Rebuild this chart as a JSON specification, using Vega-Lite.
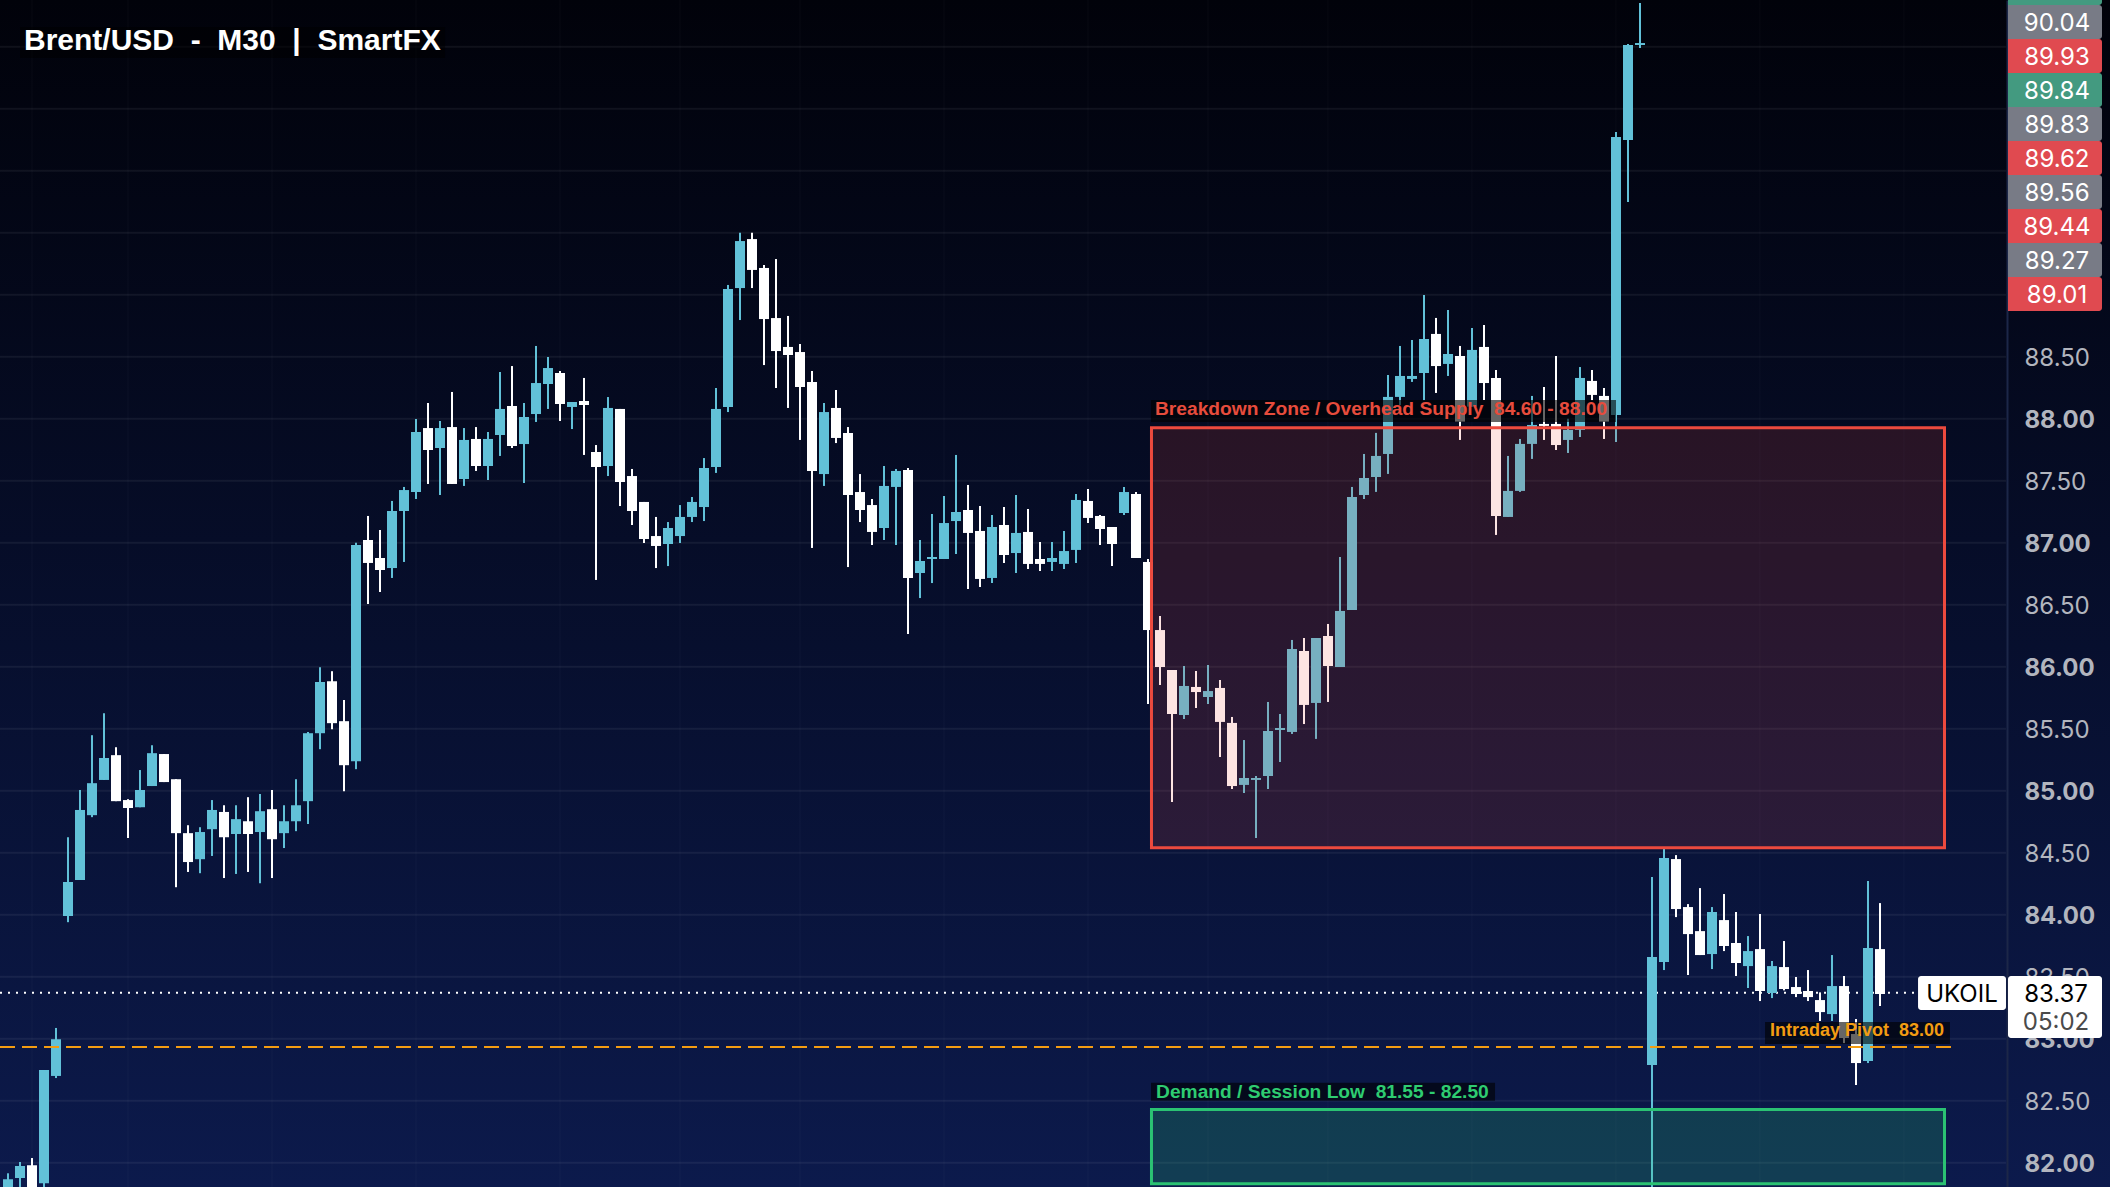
{
  "$schema": "https://vega.github.io/schema/vega-lite/v6.json",
  "width": 2110,
  "height": 1187,
  "padding": 0,
  "autosize": {"type": "none"},
  "background": "#01020a",
  "view": {
    "stroke": null,
    "fill": {
      "gradient": "linear", "x1": 0, "y1": 0, "x2": 0, "y2": 1,
      "stops": [{"offset": 0, "color": "#01020a"}, {"offset": 1, "color": "#0c1a4c"}]
    }
  },
  "resolve": {"scale": {"color": "independent"}},
  "datasets": {
    "candles": [
      {"i":0,"open":81.75,"high":81.915,"low":81.7,"close":81.867},
      {"i":1,"open":81.877,"high":82.006,"low":81.75,"close":81.974},
      {"i":2,"open":81.98,"high":82.038,"low":81.7,"close":81.75},
      {"i":3,"open":81.835,"high":82.748,"low":81.8,"close":82.748},
      {"i":4,"open":82.7,"high":83.087,"low":82.683,"close":82.996},
      {"i":5,"open":83.99,"high":84.625,"low":83.94,"close":84.264},
      {"i":6,"open":84.28,"high":85.006,"low":84.28,"close":84.845},
      {"i":7,"open":84.803,"high":85.448,"low":84.787,"close":85.061},
      {"i":8,"open":85.087,"high":85.625,"low":85.087,"close":85.264},
      {"i":9,"open":85.287,"high":85.351,"low":84.916,"close":84.916},
      {"i":10,"open":84.925,"high":84.932,"low":84.619,"close":84.861},
      {"i":11,"open":84.867,"high":85.167,"low":84.867,"close":85.006},
      {"i":12,"open":85.038,"high":85.367,"low":85.038,"close":85.303},
      {"i":13,"open":85.296,"high":85.296,"low":85.07,"close":85.07},
      {"i":14,"open":85.093,"high":85.093,"low":84.222,"close":84.658},
      {"i":15,"open":84.658,"high":84.722,"low":84.345,"close":84.425},
      {"i":16,"open":84.448,"high":84.706,"low":84.335,"close":84.667},
      {"i":17,"open":84.69,"high":84.925,"low":84.474,"close":84.845},
      {"i":18,"open":84.829,"high":84.883,"low":84.296,"close":84.625},
      {"i":19,"open":84.651,"high":84.883,"low":84.329,"close":84.771},
      {"i":20,"open":84.754,"high":84.948,"low":84.345,"close":84.651},
      {"i":21,"open":84.667,"high":84.974,"low":84.254,"close":84.835},
      {"i":22,"open":84.851,"high":85.006,"low":84.296,"close":84.609},
      {"i":23,"open":84.658,"high":84.883,"low":84.538,"close":84.754},
      {"i":24,"open":84.754,"high":85.093,"low":84.674,"close":84.883},
      {"i":25,"open":84.916,"high":85.474,"low":84.732,"close":85.464},
      {"i":26,"open":85.464,"high":85.996,"low":85.335,"close":85.877},
      {"i":27,"open":85.883,"high":85.964,"low":85.496,"close":85.545},
      {"i":28,"open":85.561,"high":85.732,"low":84.996,"close":85.206},
      {"i":29,"open":85.238,"high":87.0,"low":85.174,"close":86.982},
      {"i":30,"open":87.022,"high":87.216,"low":86.506,"close":86.837},
      {"i":31,"open":86.877,"high":87.103,"low":86.603,"close":86.78},
      {"i":32,"open":86.796,"high":87.337,"low":86.716,"close":87.256},
      {"i":33,"open":87.256,"high":87.45,"low":86.845,"close":87.425},
      {"i":34,"open":87.409,"high":87.998,"low":87.353,"close":87.893},
      {"i":35,"open":87.925,"high":88.127,"low":87.474,"close":87.748},
      {"i":36,"open":87.764,"high":87.982,"low":87.385,"close":87.925},
      {"i":37,"open":87.933,"high":88.216,"low":87.474,"close":87.474},
      {"i":38,"open":87.514,"high":87.925,"low":87.458,"close":87.829},
      {"i":39,"open":87.837,"high":87.933,"low":87.579,"close":87.619},
      {"i":40,"open":87.619,"high":87.893,"low":87.506,"close":87.837},
      {"i":41,"open":87.869,"high":88.377,"low":87.7,"close":88.079},
      {"i":42,"open":88.103,"high":88.425,"low":87.764,"close":87.78},
      {"i":43,"open":87.796,"high":88.127,"low":87.482,"close":88.014},
      {"i":44,"open":88.038,"high":88.587,"low":87.974,"close":88.288},
      {"i":45,"open":88.28,"high":88.498,"low":88.079,"close":88.409},
      {"i":46,"open":88.369,"high":88.385,"low":87.982,"close":88.119},
      {"i":47,"open":88.095,"high":88.135,"low":87.917,"close":88.135},
      {"i":48,"open":88.143,"high":88.329,"low":87.708,"close":88.111},
      {"i":49,"open":87.732,"high":87.788,"low":86.7,"close":87.611},
      {"i":50,"open":87.619,"high":88.175,"low":87.538,"close":88.087},
      {"i":51,"open":88.079,"high":88.079,"low":87.296,"close":87.49},
      {"i":52,"open":87.538,"high":87.595,"low":87.143,"close":87.256},
      {"i":53,"open":87.329,"high":87.329,"low":86.998,"close":87.03},
      {"i":54,"open":87.054,"high":87.208,"low":86.796,"close":86.974},
      {"i":55,"open":86.99,"high":87.167,"low":86.812,"close":87.119},
      {"i":56,"open":87.054,"high":87.304,"low":86.998,"close":87.208},
      {"i":57,"open":87.208,"high":87.369,"low":87.167,"close":87.329},
      {"i":58,"open":87.288,"high":87.683,"low":87.175,"close":87.603},
      {"i":59,"open":87.611,"high":88.248,"low":87.563,"close":88.079},
      {"i":60,"open":88.095,"high":89.079,"low":88.054,"close":89.046},
      {"i":61,"open":89.054,"high":89.5,"low":88.796,"close":89.433},
      {"i":62,"open":89.449,"high":89.5,"low":89.054,"close":89.2},
      {"i":63,"open":89.216,"high":89.24,"low":88.433,"close":88.804},
      {"i":64,"open":88.812,"high":89.288,"low":88.248,"close":88.546},
      {"i":65,"open":88.579,"high":88.829,"low":88.087,"close":88.514},
      {"i":66,"open":88.538,"high":88.603,"low":87.829,"close":88.256},
      {"i":67,"open":88.296,"high":88.385,"low":86.958,"close":87.579},
      {"i":68,"open":87.554,"high":88.127,"low":87.458,"close":88.054},
      {"i":69,"open":88.087,"high":88.232,"low":87.804,"close":87.845},
      {"i":70,"open":87.885,"high":87.933,"low":86.804,"close":87.385},
      {"i":71,"open":87.409,"high":87.554,"low":87.167,"close":87.264},
      {"i":72,"open":87.304,"high":87.353,"low":86.982,"close":87.087},
      {"i":73,"open":87.119,"high":87.619,"low":87.022,"close":87.458},
      {"i":74,"open":87.45,"high":87.595,"low":86.982,"close":87.579},
      {"i":75,"open":87.587,"high":87.603,"low":86.264,"close":86.716},
      {"i":76,"open":86.756,"high":87.022,"low":86.554,"close":86.853},
      {"i":77,"open":86.869,"high":87.232,"low":86.675,"close":86.885},
      {"i":78,"open":86.869,"high":87.377,"low":86.869,"close":87.159},
      {"i":79,"open":87.175,"high":87.708,"low":86.909,"close":87.248},
      {"i":80,"open":87.264,"high":87.466,"low":86.627,"close":87.079},
      {"i":81,"open":87.095,"high":87.296,"low":86.643,"close":86.708},
      {"i":82,"open":86.716,"high":87.224,"low":86.675,"close":87.127},
      {"i":83,"open":87.143,"high":87.288,"low":86.837,"close":86.901},
      {"i":84,"open":86.917,"high":87.385,"low":86.756,"close":87.079},
      {"i":85,"open":87.087,"high":87.272,"low":86.788,"close":86.829},
      {"i":86,"open":86.869,"high":87.006,"low":86.772,"close":86.829},
      {"i":87,"open":86.845,"high":87.006,"low":86.772,"close":86.877},
      {"i":88,"open":86.829,"high":87.095,"low":86.788,"close":86.933},
      {"i":89,"open":86.942,"high":87.393,"low":86.837,"close":87.345},
      {"i":90,"open":87.337,"high":87.433,"low":87.159,"close":87.2},
      {"i":91,"open":87.216,"high":87.224,"low":86.982,"close":87.111},
      {"i":92,"open":87.127,"high":87.127,"low":86.812,"close":86.99},
      {"i":93,"open":87.24,"high":87.45,"low":87.224,"close":87.409},
      {"i":94,"open":87.393,"high":87.409,"low":86.877,"close":86.877},
      {"i":95,"open":86.845,"high":86.869,"low":85.7,"close":86.296},
      {"i":96,"open":86.296,"high":86.409,"low":85.853,"close":85.998},
      {"i":97,"open":85.974,"high":85.974,"low":84.909,"close":85.619},
      {"i":98,"open":85.611,"high":86.006,"low":85.579,"close":85.845},
      {"i":99,"open":85.837,"high":85.966,"low":85.667,"close":85.796},
      {"i":100,"open":85.756,"high":86.014,"low":85.7,"close":85.804},
      {"i":101,"open":85.829,"high":85.893,"low":85.272,"close":85.555},
      {"i":102,"open":85.547,"high":85.595,"low":85.014,"close":85.038},
      {"i":103,"open":85.047,"high":85.409,"low":84.982,"close":85.103},
      {"i":104,"open":85.087,"high":85.119,"low":84.619,"close":85.103},
      {"i":105,"open":85.119,"high":85.716,"low":85.014,"close":85.482},
      {"i":106,"open":85.49,"high":85.619,"low":85.232,"close":85.506},
      {"i":107,"open":85.474,"high":86.216,"low":85.458,"close":86.143},
      {"i":108,"open":86.127,"high":86.232,"low":85.538,"close":85.692},
      {"i":109,"open":85.708,"high":86.232,"low":85.418,"close":86.232},
      {"i":110,"open":86.248,"high":86.345,"low":85.716,"close":86.006},
      {"i":111,"open":85.998,"high":86.885,"low":85.998,"close":86.45},
      {"i":112,"open":86.458,"high":87.45,"low":86.458,"close":87.369},
      {"i":113,"open":87.385,"high":87.716,"low":87.353,"close":87.522},
      {"i":114,"open":87.53,"high":87.886,"low":87.41,"close":87.7},
      {"i":115,"open":87.716,"high":88.353,"low":87.555,"close":88.176},
      {"i":116,"open":88.176,"high":88.587,"low":88.11,"close":88.345},
      {"i":117,"open":88.321,"high":88.635,"low":88.297,"close":88.345},
      {"i":118,"open":88.369,"high":88.998,"low":88.15,"close":88.643},
      {"i":119,"open":88.684,"high":88.813,"low":88.208,"close":88.425},
      {"i":120,"open":88.442,"high":88.877,"low":88.345,"close":88.522},
      {"i":121,"open":88.506,"high":88.587,"low":87.829,"close":87.977},
      {"i":122,"open":88.098,"high":88.732,"low":88.098,"close":88.555},
      {"i":123,"open":88.579,"high":88.756,"low":88.151,"close":88.288},
      {"i":124,"open":88.329,"high":88.393,"low":87.063,"close":87.216},
      {"i":125,"open":87.208,"high":87.7,"low":87.208,"close":87.418},
      {"i":126,"open":87.418,"high":87.837,"low":87.41,"close":87.797},
      {"i":127,"open":87.797,"high":88.184,"low":87.676,"close":87.95},
      {"i":128,"open":87.958,"high":88.256,"low":87.829,"close":87.942},
      {"i":129,"open":87.958,"high":88.506,"low":87.748,"close":87.788},
      {"i":130,"open":87.829,"high":88.0,"low":87.724,"close":87.91},
      {"i":131,"open":87.91,"high":88.417,"low":87.853,"close":88.329},
      {"i":132,"open":88.305,"high":88.393,"low":88.15,"close":88.192},
      {"i":133,"open":88.184,"high":88.248,"low":87.837,"close":87.977},
      {"i":134,"open":88.03,"high":90.313,"low":87.813,"close":90.272},
      {"i":135,"open":90.248,"high":91.022,"low":89.748,"close":91.014},
      {"i":136,"open":91.014,"high":91.353,"low":90.99,"close":91.03},
      {"i":137,"open":82.788,"high":84.304,"low":81.7,"close":83.659},
      {"i":138,"open":83.619,"high":84.53,"low":83.554,"close":84.457},
      {"i":139,"open":84.449,"high":84.481,"low":83.981,"close":84.046},
      {"i":140,"open":84.062,"high":84.086,"low":83.514,"close":83.844},
      {"i":141,"open":83.868,"high":84.215,"low":83.675,"close":83.675},
      {"i":142,"open":83.683,"high":84.062,"low":83.562,"close":84.022},
      {"i":143,"open":83.957,"high":84.167,"low":83.707,"close":83.748},
      {"i":144,"open":83.772,"high":84.022,"low":83.506,"close":83.611},
      {"i":145,"open":83.586,"high":83.828,"low":83.409,"close":83.707},
      {"i":146,"open":83.723,"high":84.006,"low":83.304,"close":83.385},
      {"i":147,"open":83.369,"high":83.627,"low":83.328,"close":83.586},
      {"i":148,"open":83.578,"high":83.788,"low":83.39,"close":83.401},
      {"i":149,"open":83.417,"high":83.498,"low":83.336,"close":83.361},
      {"i":150,"open":83.385,"high":83.554,"low":83.304,"close":83.336},
      {"i":151,"open":83.312,"high":83.374,"low":83.143,"close":83.215},
      {"i":152,"open":83.199,"high":83.675,"low":83.143,"close":83.425},
      {"i":153,"open":83.425,"high":83.506,"low":82.965,"close":83.006},
      {"i":154,"open":83.038,"high":83.159,"low":82.627,"close":82.804},
      {"i":155,"open":82.82,"high":84.272,"low":82.804,"close":83.731},
      {"i":156,"open":83.723,"high":84.094,"low":83.264,"close":83.361}
    ],
    "grid": [
      {"price":82},{"price":82.5},{"price":83},{"price":83.5},{"price":84},{"price":84.5},{"price":85},{"price":85.5},{"price":86},{"price":86.5},
      {"price":87},{"price":87.5},{"price":88},{"price":88.5},{"price":89},{"price":89.5},{"price":90},{"price":90.5},{"price":91}
    ],
    "sessions": [
      {"i":2},{"i":10},{"i":22},{"i":34},{"i":46},{"i":56},{"i":66},{"i":78},{"i":90},{"i":100},{"i":110},{"i":122},{"i":134},{"i":146},{"i":158}
    ],
    "zones": [
      {"zone":"supply","from":95.29,"to":161.375,"top":87.928,"bottom":84.54},
      {"zone":"demand","from":95.29,"to":161.375,"top":82.43,"bottom":81.83}
    ],
    "notes": [
      {"note":"supply","from":95.25,"to":134,"top":88.151,"bottom":87.974,"at":95.58,"mid":88.075,"text":"Breakdown Zone / Overhead Supply \u00a084.60 - 88.00"},
      {"note":"demand","from":95.25,"to":123.92,"top":82.645,"bottom":82.5,"at":95.67,"mid":82.572,"text":"Demand / Session Low \u00a081.55 - 82.50"},
      {"note":"pivot","from":146.42,"to":161.83,"top":83.135,"bottom":82.957,"at":146.83,"mid":83.06,"text":"Intraday Pivot \u00a083.00"}
    ],
    "ladder": [
      {"kind":"gain","top":91.45,"bottom":91.337},
      {"kind":"flat","top":91.337,"bottom":91.062,"mid":91.2,"text":"90.04"},
      {"kind":"loss","top":91.062,"bottom":90.788,"mid":90.925,"text":"89.93"},
      {"kind":"gain","top":90.788,"bottom":90.514,"mid":90.651,"text":"89.84"},
      {"kind":"flat","top":90.514,"bottom":90.24,"mid":90.377,"text":"89.83"},
      {"kind":"loss","top":90.24,"bottom":89.966,"mid":90.103,"text":"89.62"},
      {"kind":"flat","top":89.966,"bottom":89.691,"mid":89.829,"text":"89.56"},
      {"kind":"loss","top":89.691,"bottom":89.417,"mid":89.554,"text":"89.44"},
      {"kind":"flat","top":89.417,"bottom":89.143,"mid":89.28,"text":"89.27"},
      {"kind":"loss","top":89.143,"bottom":88.869,"mid":89.006,"text":"89.01"}
    ]
  },
  "layer": [
    {
      "data": {"name": "grid"},
      "mark": {"type": "rule", "strokeWidth": 2, "color": "#ffffff", "opacity": 0.06},
      "encoding": {
        "y": {
          "field": "price", "type": "quantitative",
          "scale": {"domain": [81.8044, 91.377], "nice": false, "zero": false},
          "axis": {
            "orient": "right", "offset": -103, "title": null, "grid": false, "ticks": false,
            "values": [82, 82.5, 83, 83.5, 84, 84.5, 85, 85.5, 86, 86.5, 87, 87.5, 88, 88.5],
            "format": ".2f", "labelFont": "Inter", "labelFontSize": 24, "labelColor": "#b2b5be",
            "labelFontWeight": {"condition": {"test": "datum.value % 1 == 0", "value": "bold"}, "value": "normal"},
            "labelAlign": "left", "labelPadding": 17, "labelOverlap": false, "labelBound": false, "labelFlush": false, "labelOffset": 2,
            "domainColor": "#1c2748", "domainWidth": 2
          }
        },
        "x": {"datum": -0.667, "type": "quantitative", "scale": {"domain": [-0.6667, 175.1667], "nice": false, "zero": false, "padding": 0}, "axis": null},
        "x2": {"datum": 166.5}
      }
    },
    {
      "data": {"name": "sessions"},
      "mark": {"type": "rule", "strokeWidth": 2, "color": "#ffffff", "opacity": 0.015},
      "encoding": {
        "x": {"field": "i", "type": "quantitative", "scale": {"domain": [-0.6667, 175.1667], "nice": false, "zero": false, "padding": 0}, "axis": null}
      }
    },
    {
      "data": {"values": [{"last": 83.37}]},
      "mark": {"type": "rule", "strokeWidth": 2, "color": "#ffffff", "strokeDash": [2, 6]},
      "encoding": {
        "y": {"field": "last", "type": "quantitative"},
        "x": {"datum": -0.667, "type": "quantitative", "scale": {"domain": [-0.6667, 175.1667], "nice": false, "zero": false, "padding": 0}, "axis": null},
        "x2": {"datum": 158.92}
      }
    },
    {
      "data": {"name": "candles"},
      "mark": {"type": "rule", "strokeWidth": 2},
      "encoding": {
        "x": {"field": "i", "type": "quantitative", "scale": {"domain": [-0.6667, 175.1667], "nice": false, "zero": false, "padding": 0}, "axis": null},
        "y": {"field": "low", "type": "quantitative"},
        "y2": {"field": "high"},
        "color": {"condition": {"test": "datum.close > datum.open", "value": "#62c1d8"}, "value": "#ffffff"}
      }
    },
    {
      "data": {"name": "candles"},
      "mark": {"type": "bar", "size": 10, "orient": "vertical"},
      "encoding": {
        "x": {"field": "i", "type": "quantitative", "scale": {"domain": [-0.6667, 175.1667], "nice": false, "zero": false, "padding": 0}, "axis": null},
        "y": {"field": "open", "type": "quantitative"},
        "y2": {"field": "close"},
        "color": {"condition": {"test": "datum.close > datum.open", "value": "#62c1d8"}, "value": "#ffffff"}
      }
    },
    {
      "data": {"name": "zones"},
      "mark": {"type": "rect", "strokeWidth": 3},
      "encoding": {
        "x": {"field": "from", "type": "quantitative", "scale": {"domain": [-0.6667, 175.1667], "nice": false, "zero": false, "padding": 0}, "axis": null},
        "x2": {"field": "to"},
        "y": {"field": "top", "type": "quantitative"},
        "y2": {"field": "bottom"},
        "fill": {"field": "zone", "type": "nominal", "legend": null, "scale": {"domain": ["supply", "demand"], "range": ["rgba(239,75,63,0.15)", "rgba(46,204,113,0.2)"]}},
        "stroke": {"field": "zone", "type": "nominal", "legend": null, "scale": {"domain": ["supply", "demand"], "range": ["#ec4a3e", "#2bc273"]}}
      }
    },
    {
      "data": {"values": [{"pivot": 82.933}]},
      "mark": {"type": "rule", "strokeWidth": 2, "color": "#f39c12", "strokeDash": [15, 7]},
      "encoding": {
        "y": {"field": "pivot", "type": "quantitative"},
        "x": {"datum": -0.667, "type": "quantitative", "scale": {"domain": [-0.6667, 175.1667], "nice": false, "zero": false, "padding": 0}, "axis": null},
        "x2": {"datum": 161.92}
      }
    },
    {
      "data": {"name": "notes"},
      "mark": {"type": "rect", "color": "#000000", "opacity": 0.6},
      "encoding": {
        "x": {"field": "from", "type": "quantitative", "scale": {"domain": [-0.6667, 175.1667], "nice": false, "zero": false, "padding": 0}, "axis": null},
        "x2": {"field": "to"},
        "y": {"field": "top", "type": "quantitative"},
        "y2": {"field": "bottom"}
      }
    },
    {
      "data": {"name": "notes"},
      "mark": {"type": "text", "align": "left", "baseline": "middle", "font": "Liberation Sans", "fontWeight": "bold"},
      "encoding": {
        "x": {"field": "at", "type": "quantitative", "scale": {"domain": [-0.6667, 175.1667], "nice": false, "zero": false, "padding": 0}, "axis": null},
        "y": {"field": "mid", "type": "quantitative"},
        "text": {"field": "text"},
        "size": {"condition": {"test": "datum.note == 'pivot'", "value": 18}, "value": 19.2},
        "color": {"field": "note", "type": "nominal", "legend": null, "scale": {"domain": ["supply", "demand", "pivot"], "range": ["#e74c3c", "#2ecc71", "#f39c12"]}}
      }
    },
    {
      "data": {"values": [{"from": 1, "to": 36.42, "top": 91.159, "bottom": 90.909}]},
      "mark": {"type": "rect", "color": "#000000", "opacity": 0.5},
      "encoding": {
        "x": {"field": "from", "type": "quantitative", "scale": {"domain": [-0.6667, 175.1667], "nice": false, "zero": false, "padding": 0}, "axis": null},
        "x2": {"field": "to"},
        "y": {"field": "top", "type": "quantitative"},
        "y2": {"field": "bottom"}
      }
    },
    {
      "data": {"values": [{"at": 1.33, "mid": 91.05, "text": "Brent/USD \u00a0-\u00a0 M30 \u00a0|\u00a0 SmartFX"}]},
      "mark": {"type": "text", "align": "left", "baseline": "middle", "font": "Liberation Sans", "fontWeight": "bold", "fontSize": 30, "color": "#ffffff"},
      "encoding": {
        "x": {"field": "at", "type": "quantitative", "scale": {"domain": [-0.6667, 175.1667], "nice": false, "zero": false, "padding": 0}, "axis": null},
        "y": {"field": "mid", "type": "quantitative"},
        "text": {"field": "text"}
      }
    },
    {
      "data": {"name": "ladder"},
      "mark": {"type": "rect", "cornerRadiusTopRight": 3, "cornerRadiusBottomRight": 3},
      "encoding": {
        "x": {"datum": 166.667, "type": "quantitative", "scale": {"domain": [-0.6667, 175.1667], "nice": false, "zero": false, "padding": 0}, "axis": null},
        "x2": {"datum": 174.5},
        "y": {"field": "top", "type": "quantitative"},
        "y2": {"field": "bottom"},
        "color": {"field": "kind", "type": "nominal", "legend": null, "scale": {"domain": ["flat", "loss", "gain"], "range": ["#787b86", "#e04a50", "#439a80"]}}
      }
    },
    {
      "data": {"name": "ladder"},
      "transform": [{"filter": "datum.text != null"}],
      "mark": {"type": "text", "align": "center", "baseline": "middle", "font": "Inter", "fontSize": 24, "dy": 2, "color": "#ffffff"},
      "encoding": {
        "x": {"datum": 170.75, "type": "quantitative", "scale": {"domain": [-0.6667, 175.1667], "nice": false, "zero": false, "padding": 0}, "axis": null},
        "y": {"field": "mid", "type": "quantitative"},
        "text": {"field": "text"}
      }
    },
    {
      "data": {"values": [
        {"from": 159.17, "to": 166.5, "top": 83.506, "bottom": 83.231},
        {"from": 166.667, "to": 174.5, "top": 83.506, "bottom": 83.006}
      ]},
      "mark": {"type": "rect", "color": "#ffffff", "cornerRadius": 3},
      "encoding": {
        "x": {"field": "from", "type": "quantitative", "scale": {"domain": [-0.6667, 175.1667], "nice": false, "zero": false, "padding": 0}, "axis": null},
        "x2": {"field": "to"},
        "y": {"field": "top", "type": "quantitative"},
        "y2": {"field": "bottom"}
      }
    },
    {
      "data": {"values": [
        {"at": 162.83, "mid": 83.37, "text": "UKOIL", "part": "symbol"},
        {"at": 170.67, "mid": 83.37, "text": "83.37", "part": "symbol"},
        {"at": 170.67, "mid": 83.145, "text": "05:02", "part": "countdown"}
      ]},
      "mark": {"type": "text", "align": "center", "baseline": "middle", "font": "Inter", "fontSize": 24, "dy": 2},
      "encoding": {
        "x": {"field": "at", "type": "quantitative", "scale": {"domain": [-0.6667, 175.1667], "nice": false, "zero": false, "padding": 0}, "axis": null},
        "y": {"field": "mid", "type": "quantitative"},
        "text": {"field": "text"},
        "color": {"field": "part", "type": "nominal", "legend": null, "scale": {"domain": ["symbol", "countdown"], "range": ["#000000", "#4a4a4a"]}}
      }
    }
  ]
}
